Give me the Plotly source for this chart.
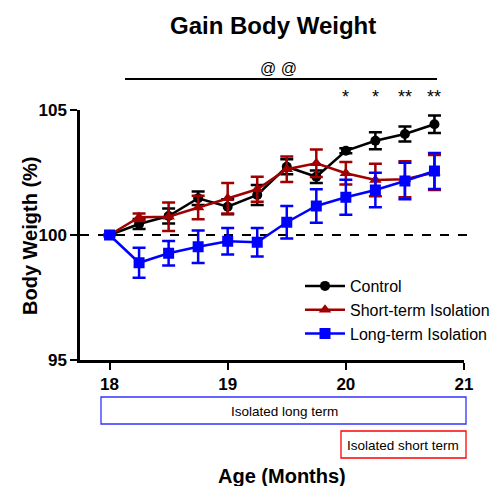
import plotly.graph_objects as go

# Age in months
age = [18, 18.25, 18.5, 18.75, 19, 19.25, 19.5, 19.75, 20, 20.25, 20.5, 20.75]

# Body weight gain (% of baseline), mean and SEM
control = [100, 100.44, 100.76, 101.47, 101.13, 101.6, 102.73, 102.33, 103.37, 103.77, 104.04, 104.43]
control_err = [0, 0.2, 0.3, 0.27, 0.3, 0.4, 0.3, 0.25, 0.1, 0.34, 0.3, 0.35]

short_term = [100, 100.71, 100.73, 101.1, 101.47, 101.83, 102.63, 102.87, 102.47, 102.2, 102.23, 102.5]
short_err = [0, 0.15, 0.57, 0.47, 0.61, 0.5, 0.51, 0.55, 0.45, 0.65, 0.72, 0.7]

long_term = [100, 98.89, 99.27, 99.53, 99.75, 99.71, 100.51, 101.16, 101.51, 101.8, 102.16, 102.56]
long_err = [0, 0.6, 0.49, 0.65, 0.53, 0.57, 0.65, 0.67, 0.7, 0.69, 0.73, 0.72]

x_ticks = [18, 19, 20, 21]
y_ticks = [95, 100, 105]

# Significance markers above the control curve
star_x = [20, 20.25, 20.5, 20.75]
star_text = ["*", "*", "**", "**"]

FONT = "Liberation Sans, Arial, sans-serif"

# Plot area in pixels (left, right, top, bottom) for placing paper-referenced items
PL, PR, PT, PB = 80, 464, 110, 360


def px(x):
    return (x - PL) / (PR - PL)


def py(y):
    return (PB - y) / (PB - PT)


fig = go.Figure()


def add_series(name, y, err, color, symbol, size):
    fig.add_trace(go.Scatter(
        x=age, y=y, name=name, mode="lines+markers",
        line=dict(color=color, width=2.5),
        marker=dict(color=color, symbol=symbol, size=size),
        error_y=dict(type="data", array=err, visible=True, color=color,
                     thickness=2.5, width=6.5),
    ))


add_series("Control", control, control_err, "black", "circle", 10)
add_series("Short-term Isolation", short_term, short_err, "#a00000", "triangle-up", 11)
add_series("Long-term Isolation", long_term, long_err, "#0000ff", "square", 11)

# Baseline at 100 %
fig.add_shape(type="line", xref="paper", yref="y", x0=0, x1=px(467), y0=100, y1=100,
              line=dict(color="black", width=2, dash="dash"), layer="below")

# Bracket for the @@ comparison
fig.add_shape(type="line", xref="paper", yref="paper", x0=px(125), x1=px(437),
              y0=py(79), y1=py(79), line=dict(color="black", width=1.8))


def label(x, y, text, size, color="black", angle=0):
    fig.add_annotation(xref="paper", yref="paper", x=px(x), y=py(y), text=text,
                       showarrow=False, xanchor="center", yanchor="middle",
                       textangle=angle, font=dict(size=size, family=FONT, color=color))


label(278, 68, "@ @", 16)

for sx, st in zip(star_x, star_text):
    fig.add_annotation(x=sx, y=105, yref="y", yshift=13, text=st, showarrow=False,
                       xanchor="center", yanchor="middle",
                       font=dict(size=18, family=FONT, color="black"))

# Isolation period boxes below the x axis
fig.add_shape(type="rect", xref="paper", yref="paper",
              x0=px(101), x1=px(466), y0=py(424), y1=py(397),
              line=dict(color="#3333ff", width=1.3))
label(284, 411, "Isolated long term", 13.5)
fig.add_shape(type="rect", xref="paper", yref="paper",
              x0=px(341), x1=px(466), y0=py(458), y1=py(431),
              line=dict(color="#ff0000", width=1.3))
label(403, 445, "Isolated short term", 13.5)

# Title and axis titles
label(273, 26, "<b>Gain Body Weight</b>", 24)
label(282, 476, "<b>Age (Months)</b>", 20)
label(30, 236, "<b>Body Weigth (%)</b>", 20, angle=-90)

fig.update_layout(
    width=493, height=486,
    margin=dict(l=PL, r=493 - PR, t=PT, b=486 - PB, autoexpand=False),
    paper_bgcolor="white", plot_bgcolor="white",
    showlegend=True,
    legend=dict(x=px(300), y=py(269), xanchor="left", yanchor="top",
                bgcolor="rgba(0,0,0,0)", font=dict(size=16, family=FONT, color="black"),
                tracegroupgap=0, itemwidth=40),
    xaxis=dict(range=[17.75, 21], tickvals=x_ticks, ticks="outside", ticklen=7,
               tickwidth=2, tickcolor="black", showline=True, linecolor="black",
               linewidth=2.5, showgrid=False, zeroline=False,
               tickfont=dict(size=17, family=FONT, color="black", weight="bold")),
    yaxis=dict(range=[95, 105], tickvals=y_ticks, ticks="outside", ticklen=7,
               tickwidth=2, tickcolor="black", showline=True, linecolor="black",
               linewidth=2.5, showgrid=False, zeroline=False,
               tickfont=dict(size=17, family=FONT, color="black", weight="bold")),
)

fig.write_html("out.html")
